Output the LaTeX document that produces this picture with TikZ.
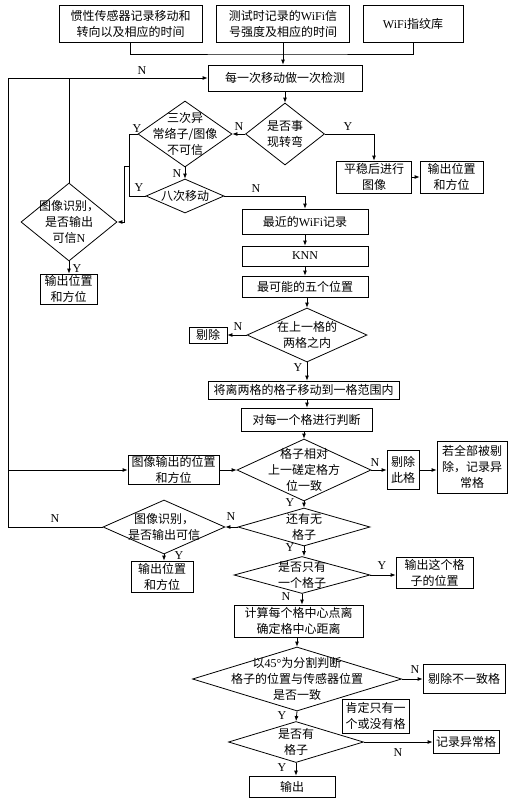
\documentclass[tikz,border=0pt]{standalone}
\usepackage{fontspec}
\setmainfont{Liberation Serif}
\newfontfamily\cjk{Noto Sans CJK SC}
\usetikzlibrary{shapes.geometric,arrows.meta}
\newcommand\en[1]{{\rmfamily #1}}
\begin{document}
\begin{tikzpicture}[x=1pt,y=-1pt,line width=0.8pt,
  every node/.style={font=\cjk\fontsize{12}{16}\selectfont},
  arr/.style={-{Latex[length=5pt,width=4pt]}},
  rbox/.style 2 args={draw,rectangle,inner sep=0pt,minimum width=#1,minimum height=#2,align=center},
  dbox/.style 2 args={draw,diamond,inner sep=0pt,minimum width=#1,minimum height=#2},
  dtxt/.style={align=center,inner sep=0pt},
  lab/.style={font=\rmfamily\fontsize{12}{12}\selectfont,inner sep=0pt}]
\useasboundingbox (0,0) rectangle (526,803);
% top
\node[rbox={143}{37}] (b1) at (130.5,23.5) {惯性传感器记录移动和\\转向以及相应的时间};
\node[rbox={133}{37}] (b2) at (283,23.5) {测试时记录的\en{WiFi}信\\号强度及相应的时间};
\node[rbox={100}{37}] (b3) at (413,23.5) {\en{WiFi}指纹库};
\coordinate (j) at (283,54);
\node[rbox={154}{26}] (b4) at (285,78) {每一次移动做一次检测};
\node[dbox={79}{62}] (d1) at (285,134) {};
\node[dtxt] (d1t) at (d1) {是否事\\现转弯};
\node[rbox={75}{32}] (b5) at (374,177) {平稳后进行\\图像};
\node[rbox={63}{32}] (b6) at (451.5,177) {输出位置\\和方位};
\node[dbox={94}{66}] (d2) at (185,134) {};
\node[dtxt] (d2t) at (d2) {三次异\\常络子/图像\\不可信};
\node[dbox={78}{34}] (d3) at (185,196) {};
\node[dtxt] (d3t) at (d3) {八次移动};
\node[dbox={96}{78}] (dL1) at (69,222) {};
\node[dtxt] (dL1t) at (dL1) {图像识别，\\是否输出\\可信\en{N}};
\node[rbox={57}{30}] (bL1) at (68.5,289) {输出位置\\和方位};
% centre column
\node[rbox={126}{25}] (b7) at (305,221.5) {最近的\en{WiFi}记录};
\node[rbox={126}{20}] (b8) at (305,256) {\en{KNN}};
\node[rbox={126}{21}] (b9) at (305,286.5) {最可能的五个位置};
\node[dbox={120}{54}] (d4) at (307,335) {};
\node[dtxt] (d4t) at (d4) {在上一格的\\两格之内};
\node[rbox={38}{16}] (bL2) at (208,335) {剔除};
\node[rbox={191}{18}] (b10) at (303.5,390) {将离两格的格子移动到一格范围内};
\node[rbox={131}{23}] (b11) at (306.5,419.5) {对每一个格进行判断};
\node[dbox={134}{62}] (d5) at (304,470) {};
\node[dtxt] (d5t) at (d5) {格子相对\\上一磋定格方\\位一致};
\node[rbox={91}{29}] (b13) at (173.5,470) {图像输出的位置\\和方位};
\node[rbox={32}{39}] (b14) at (403,470) {剔除\\此格};
\node[rbox={70}{52}] (b15) at (472,467) {若全部被剔\\除，记录异\\常格};
\node[dbox={132}{38}] (d6) at (304,527) {};
\node[dtxt] (d6t) at (d6) {还有无\\格子};
\node[dbox={122}{54}] (dL2) at (164,527) {};
\node[dtxt] (dL2t) at (dL2) {图像识别，\\是否输出可信};
\node[rbox={62}{31}] (bL3) at (162,576.5) {输出位置\\和方位};
\node[dbox={136}{37}] (d7) at (302,575) {};
\node[dtxt] (d7t) at (d7) {是否只有\\一个格子};
\node[rbox={77}{31}] (b16) at (434.5,572.5) {输出这个格\\子的位置};
\node[rbox={129}{32}] (b12) at (298.5,621) {计算每个格中心点离\\确定格中心距离};
\node[dbox={209}{64}] (d8) at (297,679) {};
\node[dtxt] (d8t) at (d8) {以\en{45°}为分割判断\\格子的位置与传感器位置\\是否一致};
\node[rbox={82}{29}] (b17) at (464,678.5) {剔除不一致格};
\node[rbox={67}{34}] (note) at (375.5,716) {肯定只有一\\个或没有格};
\node[dbox={135}{41}] (d9) at (296,742) {};
\node[dtxt] (d9t) at (d9) {是否有\\格子};
\node[rbox={66}{23}] (b18) at (466,741.5) {记录异常格};
\node[rbox={86}{21}] (bout) at (292,786.5) {输出};
% coordinates
\coordinate (c1) at (129,134);
\coordinate (c2) at (129,196);
\coordinate (c3) at (129,166);
\coordinate (c4) at (124,166);
\coordinate (o1) at (8,78);
\coordinate (o2) at (8,527);
% connectors
\draw (b1.south) |- (j) -| (b3.south);
\draw[arr] (b2.south) -- (b2.south |- b4.north);
\draw[arr] (b4.south) -- (d1.north);
\draw[arr] (d1.west) -- (d2.east);
\draw[arr] (d1.east) -| (b5.north);
\draw[arr] (b5.east) -- (b6.west);
\draw[arr] (d2.south) -- (d3.north);
\draw (d2.west) -- (c1) -- (c2) -- (d3.west);
\draw[arr] (c3) -- (c4) |- (dL1.east);
\draw[arr] (d3.east) -| (b7.north);
\draw[arr] (b7.south) -- (b8.north);
\draw[arr] (b8.south) -- (b9.north);
\draw[arr] (d4.north |- b9.south) -- (d4.north);
\draw[arr] (d4.west) -- (bL2.east);
\draw[arr] (d4.south) -- (d4.south |- b10.north);
\draw[arr] (d4.south |- b10.south) -- (d4.south |- b11.north);
\draw[arr] (d5.north |- b11.south) -- (d5.north);
\draw[arr] (dL2.west) -- (o2) -- (o1) -- (b4.west);
\draw (dL1.north) -- (dL1.north |- b4.west);
\draw[arr] (dL1.south) -- (dL1.south |- bL1.north);
\draw[arr] (o2 |- b13.west) -- (b13.west);
\draw[arr] (b13.east) -- (d5.west);
\draw[arr] (d5.east) -- (b14.west);
\draw[arr] (b14.east) -- (b14.east -| b15.west);
\draw[arr] (d5.south) -- (d6.north);
\draw[arr] (d6.west) -- (dL2.east);
\draw[arr] (dL2.south) -- (dL2.south |- bL3.north);
\draw[arr] (d6.south) -- (d6.south |- d7.north);
\draw[arr] (d7.east) -- (d7.east -| b16.west);
\draw[arr] (d7.south) -- (d7.south |- b12.north);
\draw[arr] (d8.north |- b12.south) -- (d8.north);
\draw[arr] (d8.east) -- (d8.east -| b17.west);
\draw[arr] (d8.south) -- (d9.north);
\draw[arr] (d9.east) -- (d9.east -| b18.west);
\draw[arr] (d9.south) -- (d9.south |- bout.north);
% labels
\node[lab] (l1) at (142,71) {N};
\node[lab] (l2) at (239,127) {N};
\node[lab] (l3) at (348,127) {Y};
\node[lab] (l4) at (137,129) {Y};
\node[lab] (l5) at (177,174) {N};
\node[lab] (l6) at (139,188) {Y};
\node[lab] (l7) at (256,189) {N};
\node[lab] (l8) at (77,269) {Y};
\node[lab] (l9) at (238,327) {N};
\node[lab] (l10) at (298,368) {Y};
\node[lab] (l11) at (375,463) {N};
\node[lab] (l12) at (290,503) {Y};
\node[lab] (l13) at (231,517) {N};
\node[lab] (l14) at (55,519) {N};
\node[lab] (l15) at (179,556) {Y};
\node[lab] (l16) at (290,548) {Y};
\node[lab] (l17) at (382,566) {Y};
\node[lab] (l18) at (286,597) {N};
\node[lab] (l19) at (415,670) {N};
\node[lab] (l20) at (282,716) {Y};
\node[lab] (l21) at (398,753) {N};
\node[lab] (l22) at (282,768) {Y};
\end{tikzpicture}
\end{document}
